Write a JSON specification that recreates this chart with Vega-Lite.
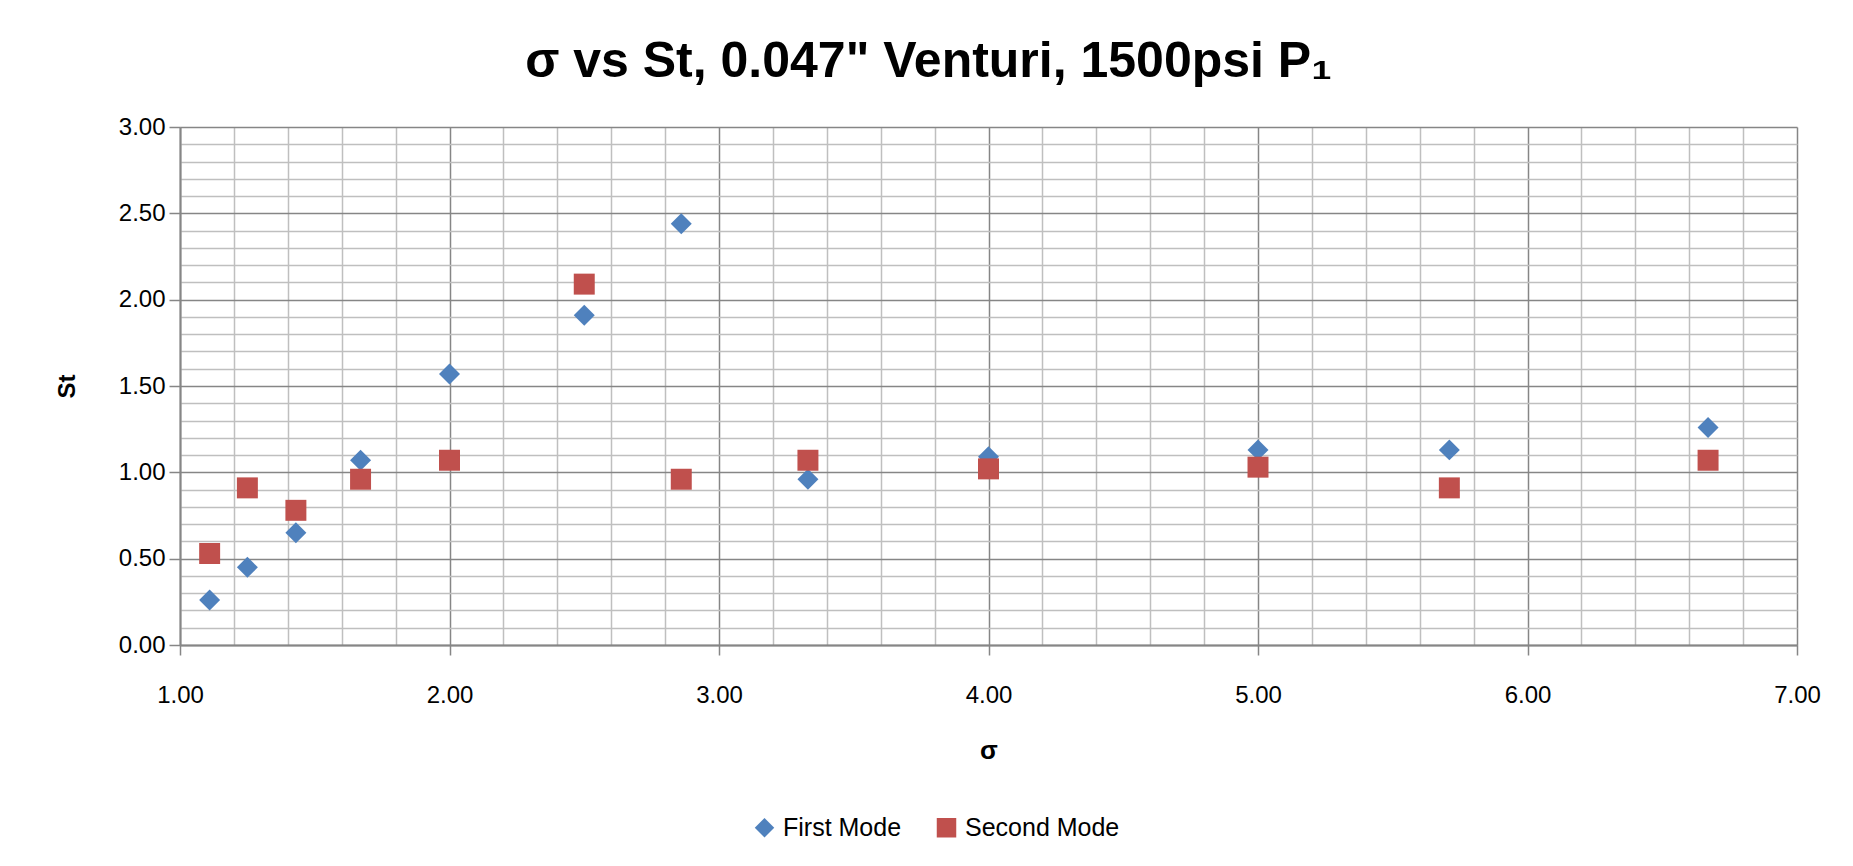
{
  "$schema": "https://vega.github.io/schema/vega-lite/v6.json",
  "width": 1617,
  "height": 518,
  "autosize": {"type": "none"},
  "padding": {"left": 180, "top": 127, "right": 56, "bottom": 221},
  "background": "white",
  "title": {
    "text": "σ vs St, 0.047\" Venturi, 1500psi P₁",
    "font": "Liberation Sans",
    "fontSize": 50,
    "fontWeight": "bold",
    "color": "black",
    "anchor": "middle",
    "frame": "group",
    "dx": -60,
    "offset": 28
  },
  "data": {
    "values": [
      {"sigma": 1.11, "st": 0.26, "mode": "First Mode"},
      {"sigma": 1.25, "st": 0.45, "mode": "First Mode"},
      {"sigma": 1.43, "st": 0.65, "mode": "First Mode"},
      {"sigma": 1.67, "st": 1.07, "mode": "First Mode"},
      {"sigma": 2.0, "st": 1.57, "mode": "First Mode"},
      {"sigma": 2.5, "st": 1.91, "mode": "First Mode"},
      {"sigma": 2.86, "st": 2.44, "mode": "First Mode"},
      {"sigma": 3.33, "st": 0.96, "mode": "First Mode"},
      {"sigma": 4.0, "st": 1.09, "mode": "First Mode"},
      {"sigma": 5.0, "st": 1.13, "mode": "First Mode"},
      {"sigma": 5.71, "st": 1.13, "mode": "First Mode"},
      {"sigma": 6.67, "st": 1.26, "mode": "First Mode"},
      {"sigma": 1.11, "st": 0.53, "mode": "Second Mode"},
      {"sigma": 1.25, "st": 0.91, "mode": "Second Mode"},
      {"sigma": 1.43, "st": 0.78, "mode": "Second Mode"},
      {"sigma": 1.67, "st": 0.96, "mode": "Second Mode"},
      {"sigma": 2.0, "st": 1.07, "mode": "Second Mode"},
      {"sigma": 2.5, "st": 2.09, "mode": "Second Mode"},
      {"sigma": 2.86, "st": 0.96, "mode": "Second Mode"},
      {"sigma": 3.33, "st": 1.07, "mode": "Second Mode"},
      {"sigma": 4.0, "st": 1.02, "mode": "Second Mode"},
      {"sigma": 5.0, "st": 1.03, "mode": "Second Mode"},
      {"sigma": 5.71, "st": 0.91, "mode": "Second Mode"},
      {"sigma": 6.67, "st": 1.07, "mode": "Second Mode"}
    ]
  },
  "mark": {"type": "point", "filled": true, "opacity": 1, "size": 440},
  "encoding": {
    "x": {
      "field": "sigma",
      "type": "quantitative",
      "scale": {"domain": [1, 7], "nice": false, "zero": false},
      "axis": {
        "title": "σ",
        "titleFont": "Liberation Sans",
        "titleFontSize": 26,
        "titleFontWeight": "bold",
        "titleColor": "black",
        "titleBaseline": "middle",
        "titleY": 105,
        "values": [1, 1.2, 1.4, 1.6, 1.8, 2, 2.2, 2.4, 2.6, 2.8, 3, 3.2, 3.4, 3.6, 3.8, 4, 4.2, 4.4, 4.6, 4.8, 5, 5.2, 5.4, 5.6, 5.8, 6, 6.2, 6.4, 6.6, 6.8, 7],
        "labelExpr": "abs(datum.value - round(datum.value)) < 0.001 ? format(datum.value, '.2f') : ''",
        "labelFont": "Liberation Sans",
        "labelFontSize": 24,
        "labelColor": "black",
        "labelPadding": 28,
        "labelFlush": false,
        "labelOverlap": false,
        "tickSize": 10,
        "tickWidth": 1.5,
        "tickColor": {"condition": {"test": "abs(datum.value - round(datum.value)) < 0.001", "value": "#868686"}, "value": "transparent"},
        "domainColor": "#868686",
        "domainWidth": 2,
        "grid": true,
        "gridWidth": 1.5,
        "gridColor": {"condition": {"test": "abs(datum.value - round(datum.value)) < 0.001", "value": "#868686"}, "value": "#bfbfbf"}
      }
    },
    "y": {
      "field": "st",
      "type": "quantitative",
      "scale": {"domain": [0, 3], "nice": false},
      "axis": {
        "title": "St",
        "titleFont": "Liberation Sans",
        "titleFontSize": 24,
        "titleFontWeight": "bold",
        "titleColor": "black",
        "titleX": -113,
        "titleY": 259,
        "titleBaseline": "middle",
        "titleAngle": 270,
        "values": [0, 0.1, 0.2, 0.3, 0.4, 0.5, 0.6, 0.7, 0.8, 0.9, 1, 1.1, 1.2, 1.3, 1.4, 1.5, 1.6, 1.7, 1.8, 1.9, 2, 2.1, 2.2, 2.3, 2.4, 2.5, 2.6, 2.7, 2.8, 2.9, 3],
        "labelExpr": "abs(datum.value * 2 - round(datum.value * 2)) < 0.001 ? format(datum.value, '.2f') : ''",
        "labelFont": "Liberation Sans",
        "labelFontSize": 24,
        "labelColor": "black",
        "labelPadding": 4,
        "labelFlush": false,
        "labelOverlap": false,
        "tickSize": 11,
        "tickWidth": 1.5,
        "tickColor": {"condition": {"test": "abs(datum.value * 2 - round(datum.value * 2)) < 0.001", "value": "#868686"}, "value": "transparent"},
        "domainColor": "#868686",
        "domainWidth": 2,
        "grid": true,
        "gridWidth": 1.5,
        "gridColor": {"condition": {"test": "abs(datum.value * 2 - round(datum.value * 2)) < 0.001", "value": "#868686"}, "value": "#bfbfbf"}
      }
    },
    "color": {
      "field": "mode",
      "type": "nominal",
      "scale": {"domain": ["First Mode", "Second Mode"], "range": ["#4F81BD", "#C0504D"]},
      "legend": {
        "title": null,
        "orient": "none",
        "direction": "horizontal",
        "legendX": 572,
        "legendY": 688,
        "labelFont": "Liberation Sans",
        "labelFontSize": 25,
        "labelColor": "black",
        "symbolSize": 380,
        "symbolOpacity": 1,
        "columnPadding": 31,
        "labelOffset": 6
      }
    },
    "shape": {
      "field": "mode",
      "type": "nominal",
      "scale": {"domain": ["First Mode", "Second Mode"], "range": ["diamond", "square"]}
    }
  },
  "config": {
    "view": {"stroke": null}
  }
}
